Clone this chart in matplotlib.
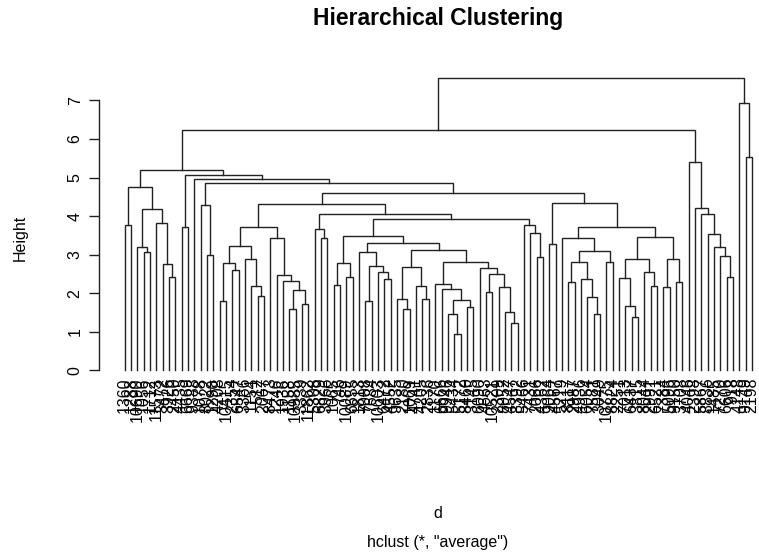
import matplotlib
matplotlib.use("Agg")
import matplotlib.pyplot as plt
import matplotlib.transforms as mtransforms

plt.rcParams["font.family"] = ["Liberation Sans", "DejaVu Sans"]

# Dendrogram. A node is (left, right, height);
# an int is a leaf, given by its position (1..100) along the x axis.
g01_09 = ((1, 2, 3.76),
          ((3, (4, 5, 3.08), 3.21), (6, (7, (8, 9, 2.42), 2.77), 3.82), 4.18),
          4.75)
g16_30 = ((((16, 17, 1.81), (18, 19, 2.60), 2.79),
           (20, (21, (22, 23, 1.93), 2.19), 2.88), 3.23),
          (24, (25, (26, ((27, 28, 1.60), (29, 30, 1.71), 2.08), 2.32), 2.47), 3.44),
          3.73)
g31_33 = (31, (32, 33, 3.44), 3.66)
g34_37 = ((34, 35, 2.21), (36, 37, 2.43), 2.79)
g38_43 = (38, ((39, 40, 1.80), (41, (42, 43, 2.36), 2.56), 2.71), 3.08)
g44_49 = ((44, (45, 46, 1.58), 1.86), (47, (48, 49, 1.86), 2.19), 2.67)
g50_56 = (50, (51, ((52, (53, 54, 0.94), 1.46), (55, 56, 1.65), 1.82), 2.10), 2.23)
g57_63 = (57, ((58, 59, 2.04), (60, (61, (62, 63, 1.23), 1.52), 2.17), 2.49), 2.65)
g64_67 = (64, (65, (66, 67, 2.95), 3.56), 3.76)
g68_69 = (68, 69, 3.27)
g70_78 = (70, (((71, 72, 2.30), (73, (74, (75, 76, 1.47), 1.91), 2.37), 2.82),
               (77, 78, 2.82), 3.10), 3.43)
g79_89 = (((79, (80, (81, 82, 1.39), 1.67), 2.39), (83, (84, 85, 2.19), 2.56), 2.89),
          ((86, 87, 2.17), (88, 89, 2.28), 2.89), 3.46)
g90_97 = (90, (91, (92, (93, (94, (95, (96, 97, 2.43), 2.97), 3.21), 3.54), 4.05), 4.20), 5.40)
g98_100 = (98, (99, 100, 5.52), 6.94)

# how the groups join up
n_349 = (g34_37, (g38_43, (g44_49, (g50_56, g57_63, 2.80), 3.12), 3.30), 3.49)
n_405 = (g31_33, (n_349, g64_67, 3.92), 4.05)
n_460 = ((g16_30, n_405, 4.31), (g68_69, (g70_78, g79_89, 3.73), 4.34), 4.60)
g10_89 = ((10, 11, 3.73), (12, ((13, (14, 15, 2.99), 4.28), n_460, 4.87), 4.96), 5.06)
root = (((g01_09, g10_89, 5.20), g90_97, 6.23), g98_100, 7.59)

leaf_labels = [
    "1360", "1288", "10690", "1056", "1712", "11573", "3472", "3926", "2450", "4435",
    "6669", "9388", "1078", "8022", "1290", "4208", "10415", "2354", "6547", "3366",
    "1154", "512", "2067", "8473", "1246", "1936", "1158", "10985", "3339", "11862",
    "5308", "6829", "3966", "1065", "746", "10089", "6655", "1813", "7008", "7684",
    "10603", "6472", "4552", "9635", "2180", "1069", "4741", "4205", "2836", "1170",
    "6666", "9946", "5434", "5172", "8460", "3145", "6090", "4663", "10521", "2309",
    "8052", "4547", "8392", "5466", "7431", "2066", "4362", "9064", "4567", "5219",
    "8117", "2987", "4936", "6054", "7581", "3049", "10775", "8824", "2251", "7013",
    "6437", "3815", "8044", "2991", "6521", "7384", "5096", "9150", "3708", "4046",
    "2398", "5867", "8836", "1485", "7270", "6606", "918", "4148", "9149", "2198",
]

LINE = "#222222"


def draw(node, ax):
    if isinstance(node, int):
        return float(node), 0.0
    left, right, h = node
    xl, hl = draw(left, ax)
    xr, hr = draw(right, ax)
    ax.plot([xl, xl, xr, xr], [hl, h, h, hr], color=LINE, lw=1.0,
            solid_joinstyle="miter")
    return (xl + xr) / 2, h


W, H = 759, 558
fig = plt.figure(figsize=(W / 100, H / 100), dpi=100)
ax = fig.add_axes([99.4 / W, 1 - 382 / H, (758 - 99.4) / W, (382 - 66) / H])
draw(root, ax)

ax.set_xlim(-2.96, 100.92)
ax.set_ylim(-0.30, 7.89)
for side in ["top", "right", "bottom"]:
    ax.spines[side].set_visible(False)
ax.spines["left"].set_bounds(0, 7)
ax.spines["left"].set_linewidth(1.0)
ax.spines["left"].set_color(LINE)
ax.set_xticks([])
ax.set_yticks(range(8))
ax.tick_params(axis="y", length=7, width=1.0, color=LINE, pad=5, labelsize=11.5)
for t in ax.get_yticklabels():
    t.set_rotation(90)
    t.set_va("center")

off = mtransforms.offset_copy(ax.transData, fig=fig, x=0, y=-7, units="dots")
for i, lab in enumerate(leaf_labels, start=1):
    ax.text(i, 0, lab, rotation=90, ha="center", va="top", fontsize=11.5,
            transform=off)

fig.text(438 / W, 1 - 18 / H, "Hierarchical Clustering", ha="center", va="center",
         fontsize=16.5, fontweight="bold")
fig.text(20 / W, 1 - 238 / H, "Height", rotation=90, ha="center", va="center",
         fontsize=11.5)
fig.text(438 / W, 1 - 513 / H, "d", ha="center", va="center", fontsize=11.5)
fig.text(438 / W, 1 - 543 / H, 'hclust (*, "average")', ha="center", va="center",
         fontsize=11.5)

fig.savefig("out.png", dpi=100)
